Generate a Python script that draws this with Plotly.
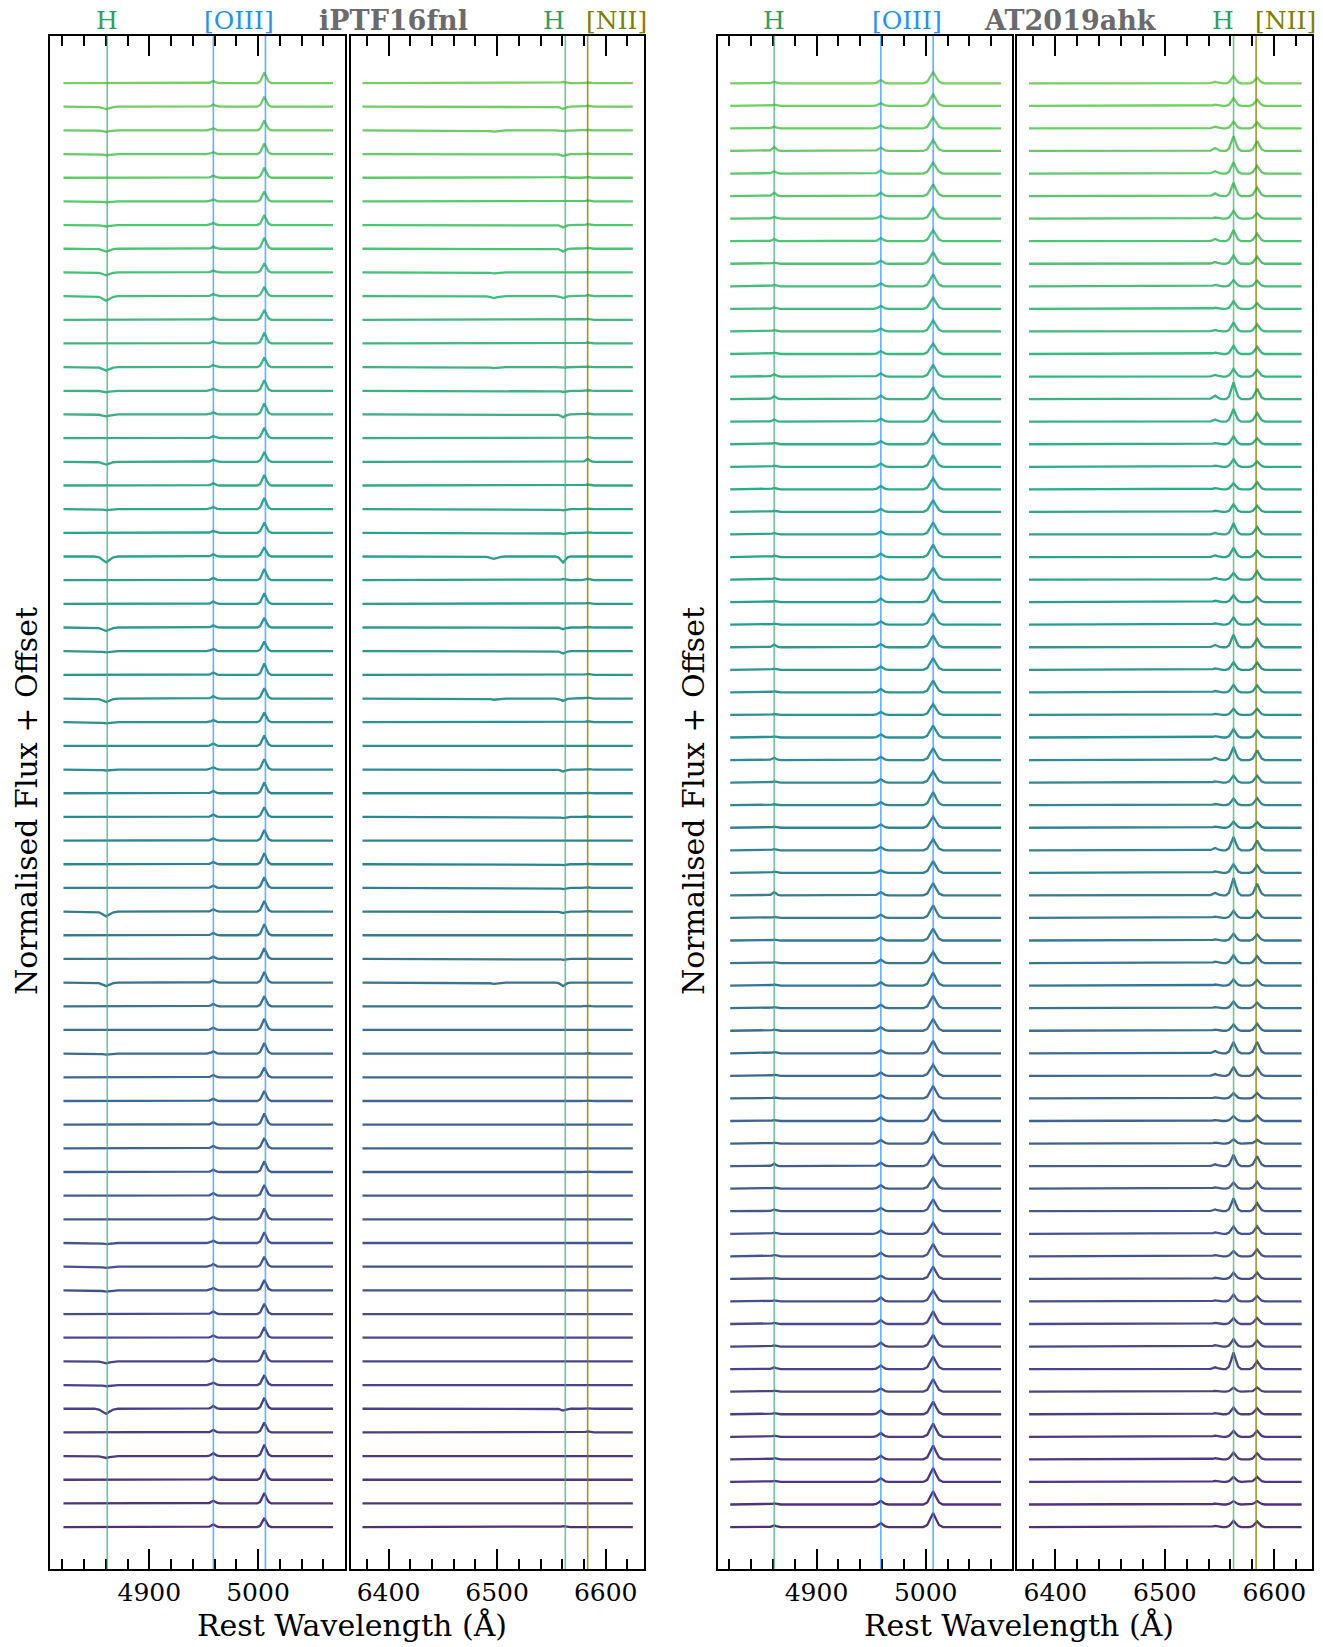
import plotly.graph_objects as go
from plotly.colors import sample_colorscale

# ---------------- data (rows listed from top spectrum to bottom spectrum) ----------------
# iPTF16fnl, blue window
A_OIII5007 = [0.45, 0.42, 0.42, 0.45, 0.42, 0.42, 0.42, 0.47, 0.39, 0.39, 0.41, 0.45, 0.41, 0.45, 0.47, 0.44,
              0.41, 0.44, 0.47, 0.44, 0.39, 0.47,
              0.45, 0.41, 0.41, 0.48, 0.44, 0.41, 0.44, 0.44, 0.45, 0.41, 0.45, 0.47, 0.45, 0.45, 0.47, 0.45,
              0.45, 0.42, 0.47, 0.45, 0.41, 0.42, 0.47,
              0.44, 0.45, 0.45, 0.46, 0.46, 0.42, 0.44, 0.44, 0.44, 0.46, 0.42, 0.46, 0.42, 0.48, 0.46, 0.44, 0.38]
A_OIII4959 = [0.09, 0.09, 0.09, 0.08, 0.09, 0.08, 0.09, 0.09, 0.08, 0.09, 0.09, 0.09, 0.09, 0.09, 0.09, 0.09,
              0.09, 0.1, 0.09, 0.09, 0.09, 0.1,
              0.1, 0.09, 0.1, 0.1, 0.1, 0.09, 0.1, 0.1, 0.1, 0.1, 0.1, 0.1, 0.1, 0.1, 0.1, 0.1,
              0.1, 0.1, 0.1, 0.1, 0.1, 0.1, 0.11,
              0.11, 0.1, 0.11, 0.11, 0.1, 0.11, 0.11, 0.11, 0.1, 0.12, 0.11, 0.12, 0.11, 0.12, 0.13, 0.12, 0.12]
A_HB_DIP = [0.0, 0.1, 0.06, 0.05, 0.0, 0.04, 0.06, 0.12, 0.12, 0.2, 0.0, 0.0, 0.15, 0.06, 0.08, 0.0,
            0.12, 0.0, 0.04, 0.0, 0.25, 0.0,
            0.0, 0.15, 0.05, 0.0, 0.15, 0.05, 0.03, 0.04, 0.0, 0.0, 0.0, 0.0, 0.0, 0.2, 0.0, 0.0,
            0.15, 0.0, 0.03, 0.04, 0.0, 0.0, 0.0,
            0.0, 0.0, 0.0, 0.03, 0.05, 0.05, 0.05, 0.0, 0.0, 0.08, 0.05, 0.22, 0.0, 0.08, 0.0, 0.0, 0.0]
# iPTF16fnl, red window
B_HA = [0.05, -0.1, -0.05, -0.08, 0.04, 0.0, -0.1, -0.12, 0.0, -0.08, 0.0, 0.0, -0.04, -0.05, -0.12, 0.03,
        0.0, 0.0, -0.05, -0.05, -0.25, 0.05, 0.0, -0.07, -0.1, 0.0, -0.1, 0.0, 0.0, -0.08,
        -0.03, -0.05, 0.0, -0.04, -0.05, -0.06, 0.0, -0.04, -0.15, -0.03, 0.0, -0.03, 0.0, -0.03, 0.0, 0.0,
        -0.03, 0.0, 0.0, 0.0, 0.03, 0.0, 0.0, 0.0, 0.0, 0.03, -0.08, 0.0, 0.0, 0.0, 0.0, 0.04]
B_NII = [0.04, 0.04, 0.04, 0.03, 0.04, 0.04, 0.04, 0.04, 0.03, 0.04, 0.04, 0.04, 0.04, 0.04, 0.04, 0.04,
         0.12, 0.04, 0.04, 0.04, 0.03, 0.06, 0.04, 0.04, 0.03, 0.04, 0.04, 0.04, 0.03, 0.03,
         0.03, 0.03, 0.03, 0.03, 0.04, 0.03, 0.03, 0.03, 0.03, 0.03, 0.03, 0.03, 0.03, 0.03, 0.03, 0.03,
         0.03, 0.03, 0.03, 0.03, 0.03, 0.03, 0.03, 0.03, 0.03, 0.03, 0.03, 0.04, 0.03, 0.03, 0.03, 0.0]
B_DIP6497 = [0.0, 0.0, 0.05, 0.0, 0.0, 0.0, 0.03, 0.0, 0.04, 0.08, 0.0, 0.0, 0.04, 0.0, 0.03, 0.0,
             0.0, 0.0, 0.0, 0.0, 0.1, 0.0, 0.0, 0.0, 0.03, 0.0, 0.05, 0.0, 0.0, 0.0,
             0.0, 0.0, 0.0, 0.0, 0.0, 0.0, 0.0, 0.0, 0.05, 0.0, 0.0, 0.0, 0.0, 0.0, 0.0, 0.0,
             0.0, 0.0, 0.0, 0.0, 0.0, 0.0, 0.0, 0.0, 0.0, 0.0, 0.0, 0.0, 0.0, 0.0, 0.0, 0.0]

# AT2019ahk, blue window
C_OIII5007 = [0.49, 0.52, 0.5, 0.49, 0.49, 0.52, 0.49, 0.5, 0.52, 0.53, 0.5, 0.5, 0.47, 0.53, 0.52, 0.49,
              0.5, 0.52, 0.5, 0.52, 0.53,
              0.55, 0.52, 0.56, 0.52, 0.52, 0.52, 0.52, 0.49, 0.53, 0.53, 0.5, 0.58, 0.5, 0.5, 0.52, 0.55,
              0.56, 0.53, 0.5, 0.58, 0.55, 0.53, 0.56,
              0.5, 0.56, 0.52, 0.53, 0.49, 0.49, 0.53, 0.49, 0.56, 0.55, 0.5, 0.56, 0.52, 0.56, 0.56, 0.56,
              0.59, 0.61, 0.62, 0.59, 0.62]
C_OIII4959 = [0.14, 0.12, 0.14, 0.15, 0.14, 0.15, 0.13, 0.14, 0.14, 0.13, 0.14, 0.13, 0.13, 0.14, 0.16, 0.14,
              0.14, 0.14, 0.15, 0.14, 0.14,
              0.15, 0.15, 0.16, 0.15, 0.14, 0.15, 0.15, 0.14, 0.14, 0.15, 0.15, 0.14, 0.15, 0.14, 0.12, 0.15,
              0.15, 0.14, 0.15, 0.15, 0.16, 0.16, 0.14,
              0.15, 0.15, 0.16, 0.16, 0.15, 0.16, 0.15, 0.15, 0.16, 0.15, 0.18, 0.17, 0.18, 0.16, 0.15, 0.18,
              0.17, 0.16, 0.17, 0.16, 0.18]
C_HB = [0.07, 0.05, 0.08, 0.18, 0.1, 0.15, 0.08, 0.1, 0.05, 0.06, 0.07, 0.06, 0.06, 0.1, 0.13, 0.1,
        0.06, 0.05, 0.06, 0.05, 0.06,
        0.06, 0.06, 0.05, 0.05, 0.12, 0.05, 0.05, 0.04, 0.05, 0.1, 0.05, 0.04, 0.05, 0.05, 0.05, 0.15,
        0.05, 0.04, 0.04, 0.05, 0.05, 0.05, 0.06,
        0.05, 0.04, 0.04, 0.04, 0.1, 0.05, 0.08, 0.05, 0.06, 0.04, 0.05, 0.05, 0.05, 0.08, 0.05, 0.05,
        0.05, 0.05, 0.05, 0.05, 0.07]
# AT2019ahk, red window
D_HA = [0.32, 0.34, 0.3, 0.66, 0.5, 0.59, 0.35, 0.5, 0.37, 0.28, 0.35, 0.4, 0.37, 0.34, 0.74, 0.56,
        0.35, 0.34, 0.28, 0.34, 0.5,
        0.41, 0.3, 0.31, 0.33, 0.56, 0.34, 0.34, 0.28, 0.38, 0.58, 0.32, 0.3, 0.27, 0.59, 0.4, 0.77,
        0.32, 0.3, 0.35, 0.28, 0.3, 0.28, 0.5,
        0.4, 0.24, 0.22, 0.19, 0.5, 0.27, 0.58, 0.33, 0.24, 0.28, 0.31, 0.27, 0.33, 0.74, 0.19, 0.3,
        0.27, 0.31, 0.22, 0.15, 0.28]
D_NII6583 = [0.25, 0.27, 0.27, 0.44, 0.34, 0.38, 0.24, 0.33, 0.31, 0.25, 0.25, 0.32, 0.32, 0.3, 0.46, 0.38,
             0.27, 0.24, 0.32, 0.27, 0.33,
             0.28, 0.37, 0.24, 0.28, 0.38, 0.33, 0.31, 0.27, 0.31, 0.43, 0.31, 0.31, 0.25, 0.43, 0.34, 0.52,
             0.32, 0.27, 0.31, 0.25, 0.25, 0.31, 0.5,
             0.37, 0.24, 0.25, 0.16, 0.43, 0.3, 0.36, 0.33, 0.31, 0.28, 0.24, 0.27, 0.27, 0.36, 0.19, 0.27,
             0.27, 0.27, 0.22, 0.15, 0.25]
D_NII6548 = [0.07, 0.05, 0.08, 0.13, 0.1, 0.12, 0.05, 0.1, 0.08, 0.06, 0.05, 0.07, 0.06, 0.07, 0.15, 0.1,
             0.05, 0.05, 0.05, 0.05, 0.07,
             0.07, 0.07, 0.06, 0.06, 0.1, 0.06, 0.06, 0.05, 0.06, 0.1, 0.05, 0.05, 0.05, 0.1, 0.06, 0.12,
             0.06, 0.05, 0.06, 0.05, 0.05, 0.05, 0.1,
             0.08, 0.05, 0.04, 0.04, 0.08, 0.06, 0.08, 0.06, 0.05, 0.05, 0.05, 0.05, 0.06, 0.08, 0.04, 0.05,
             0.05, 0.05, 0.05, 0.04, 0.05]

LINES_BLUE = {"Hb": 4861.3, "OIII_a": 4958.9, "OIII_b": 5006.8}
LINES_RED = {"NII_a": 6548.0, "Ha": 6562.8, "NII_b": 6583.4, "feat": 6497.0}

BLUE_SPAN = (4821, 5069)
RED_SPAN = (6376, 6625)
RANGES = {"A": [4809, 5080], "B": [6365, 6635], "C": [4810, 5079], "D": [6365, 6634]}

# emission/absorption profile template (fraction of peak vs offset in half-widths)
PROFILE_DX = [-1.0, -0.6, -0.3, 0.0, 0.3, 0.6, 1.0]
PROFILE_FRAC = [0.0, 0.15, 0.55, 1.0, 0.55, 0.15, 0.0]

SERIF = "DejaVu Serif"


def spectrum(span, feats, offset):
    pts = [(span[0], 0.0), (span[1], 0.0)]
    for c, a, hw in feats:
        if a == 0:
            continue
        for dx, f in zip(PROFILE_DX, PROFILE_FRAC):
            pts.append((c + dx * hw, a * f))
    pts.sort()
    return [p[0] for p in pts], [p[1] + offset for p in pts]


fig = go.Figure()

W, H = 1323, 1647
panels = {
    "A": dict(xa="x", ya="y", px=(50.4, 345.0)),
    "B": dict(xa="x2", ya="y2", px=(350.5, 643.7)),
    "C": dict(xa="x3", ya="y3", px=(718.2, 1012.0)),
    "D": dict(xa="x4", ya="y4", px=(1017.0, 1311.5)),
}
Y_PX = (35.7, 1569.0)


def colors_for(n):
    fr = [0.1 + (0.78 - 0.1) * k / (n - 1) for k in range(n)]
    return sample_colorscale("Viridis", fr)


def add_rows(panel, n, feats_for_row, span):
    cols = colors_for(n)
    p = panels[panel]
    for i in range(n):
        off = n - 1 - i
        xs, ys = spectrum(span, feats_for_row(i), off)
        fig.add_trace(go.Scatter(x=xs, y=ys, mode="lines", xaxis=p["xa"], yaxis=p["ya"],
                                 line=dict(color=cols[off], width=2.3), opacity=0.95,
                                 hoverinfo="skip", showlegend=False))


nA = len(A_OIII5007)
nC = len(C_OIII5007)
add_rows("A", nA, lambda i: [(LINES_BLUE["Hb"] - 1, -A_HB_DIP[i], 11),
                             (LINES_BLUE["OIII_a"], A_OIII4959[i], 6),
                             (LINES_BLUE["OIII_b"] - 1, A_OIII5007[i], 6.5)], BLUE_SPAN)
add_rows("B", nA, lambda i: [(LINES_RED["feat"], -B_DIP6497[i], 11),
                             (LINES_RED["Ha"] - 2, B_HA[i], 7),
                             (LINES_RED["NII_b"], B_NII[i], 6)], RED_SPAN)
add_rows("C", nC, lambda i: [(LINES_BLUE["Hb"], C_HB[i], 6),
                             (LINES_BLUE["OIII_a"], C_OIII4959[i], 7),
                             (LINES_BLUE["OIII_b"], C_OIII5007[i], 9)], BLUE_SPAN)
add_rows("D", nC, lambda i: [(LINES_RED["NII_a"] - 2, D_NII6548[i], 7),
                             (LINES_RED["Ha"], D_HA[i], 7),
                             (LINES_RED["NII_b"] + 1, D_NII6583[i], 7)], RED_SPAN)

GREEN_L = "rgba(60,179,113,0.75)"
BLUE_L = "rgba(30,144,255,0.7)"
OLIVE_L = "rgba(128,128,0,0.8)"
shapes = []
for pk, lines in [("A", [("Hb", GREEN_L), ("OIII_a", BLUE_L), ("OIII_b", BLUE_L)]),
                  ("C", [("Hb", GREEN_L), ("OIII_a", BLUE_L), ("OIII_b", BLUE_L)]),
                  ("B", [("Ha", GREEN_L), ("NII_b", OLIVE_L)]),
                  ("D", [("Ha", GREEN_L), ("NII_b", OLIVE_L)])]:
    p = panels[pk]
    for name, col in lines:
        w = LINES_BLUE.get(name, LINES_RED.get(name))
        shapes.append(dict(type="line", xref=p["xa"], yref=p["ya"] + " domain", x0=w, x1=w, y0=0, y1=1,
                           line=dict(color=col, width=1.6), layer="above"))

layout = dict(width=W, height=H, margin=dict(l=0, r=0, t=0, b=0, pad=0),
              paper_bgcolor="white", plot_bgcolor="white", shapes=shapes,
              font=dict(family=SERIF, color="black"))

ydom = [1 - Y_PX[1] / H, 1 - Y_PX[0] / H]
for idx, (pk, p) in enumerate(panels.items()):
    suffix = "" if idx == 0 else str(idx + 1)
    n = nA if pk in "AB" else nC
    blue = pk in "AC"
    if pk in "AB":
        yr = [-1.77, n - 1 + 2.0]
    else:
        yr = [-1.86, n - 1 + 2.11]
    layout["xaxis" + suffix] = dict(
        domain=[p["px"][0] / W, p["px"][1] / W], anchor="y" + suffix, range=RANGES[pk],
        showline=True, linecolor="black", linewidth=1.6, mirror="allticks",
        ticks="inside", ticklen=20, tickwidth=1.8, tickcolor="black",
        tick0=4900 if blue else 6400, dtick=100,
        minor=dict(ticks="inside", ticklen=10, tickwidth=1.5, tickcolor="black", dtick=20,
                   tick0=4900 if blue else 6400),
        showgrid=False, zeroline=False,
        tickfont=dict(family=SERIF, size=25, color="black"))
    layout["yaxis" + suffix] = dict(
        domain=ydom, anchor="x" + suffix, range=yr,
        showline=True, linecolor="black", linewidth=1.6, mirror=True,
        showticklabels=False, ticks="", showgrid=False, zeroline=False)

fig.update_layout(**layout)

ann = []
# axis titles
for xc in [352 / W, 1018.5 / W]:
    ann.append(dict(text="Rest Wavelength (Å)", xref="paper", yref="paper", x=xc, y=1 - 1625 / H,
                    xanchor="center", yanchor="middle", showarrow=False,
                    font=dict(family=SERIF, size=30, color="black")))
for xc in [26 / W, 693 / W]:
    ann.append(dict(text="Normalised Flux + Offset", xref="paper", yref="paper", x=xc, y=1 - 801 / H,
                    xanchor="center", yanchor="middle", showarrow=False, textangle=-90,
                    font=dict(family=SERIF, size=30, color="black")))
# titles
for txt, xc in [("iPTF16fnl", 393 / W), ("AT2019ahk", 1070 / W)]:
    ann.append(dict(text="<b>" + txt + "</b>", xref="paper", yref="paper", x=xc, y=1 - 20 / H,
                    xanchor="center", yanchor="middle", showarrow=False,
                    font=dict(family=SERIF, size=27, color="#6b6b6b")))
# line labels
for bx, rx in [("x", "x2"), ("x3", "x4")]:
    ann.append(dict(text="H", xref=bx, yref="paper", x=LINES_BLUE["Hb"], y=1 - 20 / H, xanchor="center",
                    yanchor="middle", showarrow=False, font=dict(family=SERIF, size=25, color="#2e9e5b")))
    ann.append(dict(text="[OIII]", xref=bx, yref="paper", x=(LINES_BLUE["OIII_a"] + LINES_BLUE["OIII_b"]) / 2,
                    y=1 - 20 / H, xanchor="center", yanchor="middle", showarrow=False,
                    font=dict(family=SERIF, size=25, color="#1e90ff")))
    ann.append(dict(text="H", xref=rx, yref="paper", x=LINES_RED["Ha"] + 2, y=1 - 20 / H, xanchor="right",
                    yanchor="middle", showarrow=False, font=dict(family=SERIF, size=25, color="#2e9e5b")))
    ann.append(dict(text="[NII]", xref=rx, yref="paper", x=LINES_RED["NII_b"] - 3, y=1 - 20 / H,
                    xanchor="left", yanchor="middle", showarrow=False,
                    font=dict(family=SERIF, size=25, color="#808000")))
fig.update_layout(annotations=ann)

fig.write_html("out.html", config={"displayModeBar": False},
               post_script="document.body.style.margin='0';document.body.style.padding='0';"
                           "document.body.style.overflow='hidden';")
